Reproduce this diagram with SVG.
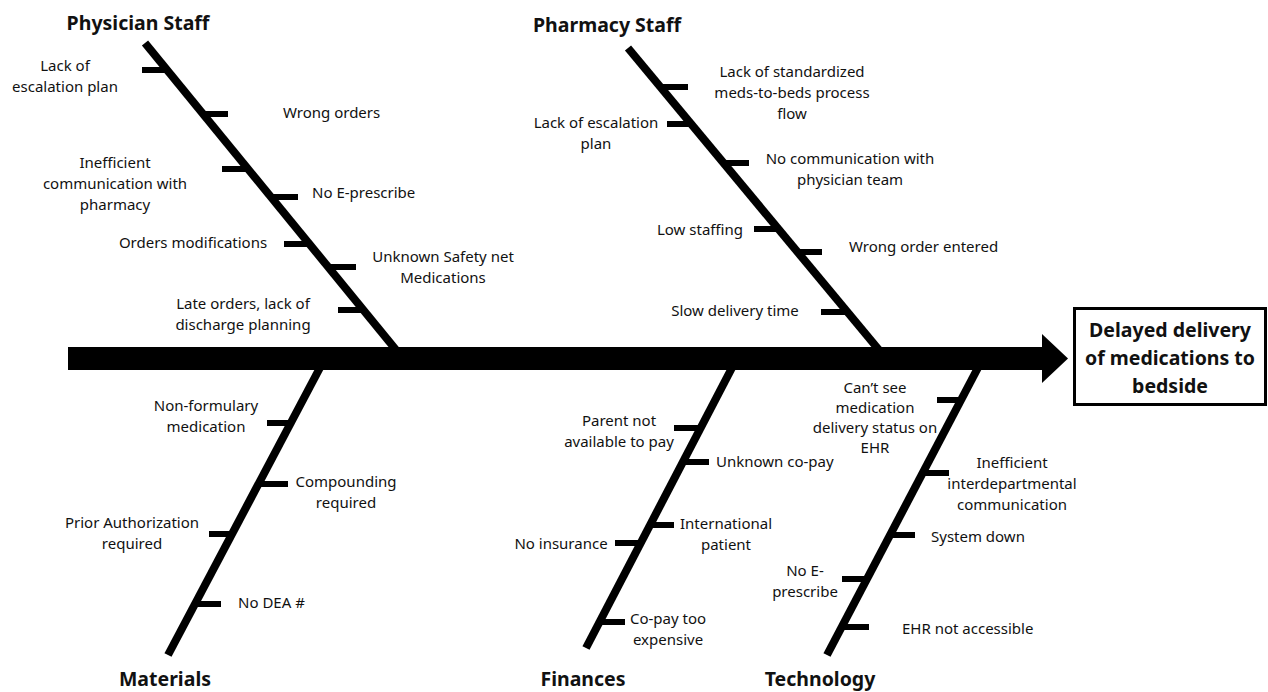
<svg xmlns="http://www.w3.org/2000/svg" width="1268" height="692" viewBox="0 0 1268 692">
<style>
.t{font-family:"Noto Sans","Liberation Sans",sans-serif;font-size:15px;fill:#111}
.h{font-family:"Noto Sans","Liberation Sans",sans-serif;font-size:19.5px;font-weight:bold;fill:#111}
.b{fill:none;stroke:#000;stroke-width:8}
.k{fill:none;stroke:#000;stroke-width:6}
.c{text-anchor:middle}
</style>
<rect width="1268" height="692" fill="#fff"/>
<g id="connectors">
<rect x="68" y="347" width="976" height="23" fill="#000"/>
<polygon points="1042,334 1068,358.5 1042,383" fill="#000"/>
<line class="b" x1="145" y1="43" x2="401" y2="356"/>
<line class="b" x1="628" y1="48" x2="884" y2="356"/>
<line class="b" x1="323" y1="362" x2="168" y2="655"/>
<line class="b" x1="735" y1="362" x2="586" y2="648"/>
<line class="b" x1="981" y1="362" x2="827" y2="655"/>
</g>
<g id="physician-staff">
<text class="h c" x="138" y="30">Physician Staff</text>
<line class="k" x1="142" y1="70" x2="167" y2="70"/>
<line class="k" x1="203" y1="114" x2="228" y2="114"/>
<line class="k" x1="222" y1="169" x2="248" y2="169"/>
<line class="k" x1="271" y1="197" x2="298" y2="197"/>
<line class="k" x1="284" y1="244" x2="310" y2="244"/>
<line class="k" x1="329" y1="267" x2="356" y2="267"/>
<line class="k" x1="338" y1="310" x2="364" y2="310"/>
<text class="t c" x="65" y="71">Lack of<tspan x="65" y="92">escalation plan</tspan></text>
<text class="t" x="283" y="118">Wrong orders</text>
<text class="t c" x="115" y="168">Inefficient<tspan x="115" y="189">communication with</tspan><tspan x="115" y="210">pharmacy</tspan></text>
<text class="t" x="312" y="198">No E-prescribe</text>
<text class="t c" x="193" y="248">Orders modifications</text>
<text class="t c" x="443" y="262">Unknown Safety net<tspan x="443" y="283">Medications</tspan></text>
<text class="t c" x="243" y="309">Late orders, lack of<tspan x="243" y="330">discharge planning</tspan></text>
</g>
<g id="pharmacy-staff">
<text class="h c" x="607" y="32">Pharmacy Staff</text>
<line class="k" x1="660" y1="87" x2="688" y2="87"/>
<line class="k" x1="667" y1="124" x2="691" y2="124"/>
<line class="k" x1="724" y1="163" x2="749" y2="163"/>
<line class="k" x1="754" y1="229" x2="779" y2="229"/>
<line class="k" x1="798" y1="252" x2="822" y2="252"/>
<line class="k" x1="821" y1="312" x2="848" y2="312"/>
<text class="t c" x="792" y="77">Lack of standardized<tspan x="792" y="98">meds-to-beds process</tspan><tspan x="792" y="119">flow</tspan></text>
<text class="t c" x="596" y="128">Lack of escalation<tspan x="596" y="149">plan</tspan></text>
<text class="t c" x="850" y="164">No communication with<tspan x="850" y="185">physician team</tspan></text>
<text class="t c" x="700" y="235">Low staffing</text>
<text class="t" x="849" y="252">Wrong order entered</text>
<text class="t c" x="735" y="316">Slow delivery time</text>
</g>
<g id="materials">
<text class="h c" x="165" y="686">Materials</text>
<line class="k" x1="267" y1="423" x2="293" y2="423"/>
<line class="k" x1="260" y1="484" x2="288" y2="484"/>
<line class="k" x1="209" y1="534" x2="233" y2="534"/>
<line class="k" x1="196" y1="604" x2="221" y2="604"/>
<text class="t c" x="206" y="411">Non-formulary<tspan x="206" y="432">medication</tspan></text>
<text class="t c" x="346" y="487">Compounding<tspan x="346" y="508">required</tspan></text>
<text class="t c" x="132" y="528">Prior Authorization<tspan x="132" y="549">required</tspan></text>
<text class="t" x="238" y="608">No DEA #</text>
</g>
<g id="finances">
<text class="h c" x="583" y="686">Finances</text>
<line class="k" x1="674" y1="428" x2="700" y2="428"/>
<line class="k" x1="683" y1="462" x2="709" y2="462"/>
<line class="k" x1="650" y1="525" x2="674" y2="525"/>
<line class="k" x1="615" y1="543" x2="640" y2="543"/>
<line class="k" x1="599" y1="622" x2="625" y2="622"/>
<text class="t c" x="619" y="426">Parent not<tspan x="619" y="447">available to pay</tspan></text>
<text class="t" x="716" y="467">Unknown co-pay</text>
<text class="t c" x="726" y="529">International<tspan x="726" y="550">patient</tspan></text>
<text class="t c" x="561" y="549">No insurance</text>
<text class="t c" x="668" y="624">Co-pay too<tspan x="668" y="645">expensive</tspan></text>
</g>
<g id="technology">
<text class="h c" x="820" y="686">Technology</text>
<line class="k" x1="937" y1="400" x2="961" y2="400"/>
<line class="k" x1="923" y1="473" x2="949" y2="473"/>
<line class="k" x1="890" y1="535" x2="915" y2="535"/>
<line class="k" x1="842" y1="579" x2="867" y2="579"/>
<line class="k" x1="842" y1="627" x2="869" y2="627"/>
<text class="t c" x="875" y="393">Can’t see<tspan x="875" y="413">medication</tspan><tspan x="875" y="433">delivery status on</tspan><tspan x="875" y="453">EHR</tspan></text>
<text class="t c" x="1012" y="468">Inefficient<tspan x="1012" y="489">interdepartmental</tspan><tspan x="1012" y="510">communication</tspan></text>
<text class="t" x="931" y="542">System down</text>
<text class="t c" x="805" y="576">No E-<tspan x="805" y="597">prescribe</tspan></text>
<text class="t" x="902" y="634">EHR not accessible</text>
</g>
<g id="effect">
<rect x="1074.5" y="308.5" width="191" height="96" fill="#fff" stroke="#000" stroke-width="3"/>
<text class="h c" x="1170" y="337" style="font-size:19.5px">Delayed delivery<tspan x="1170" y="365">of medications to</tspan><tspan x="1170" y="393">bedside</tspan></text>
</g>
</svg>
